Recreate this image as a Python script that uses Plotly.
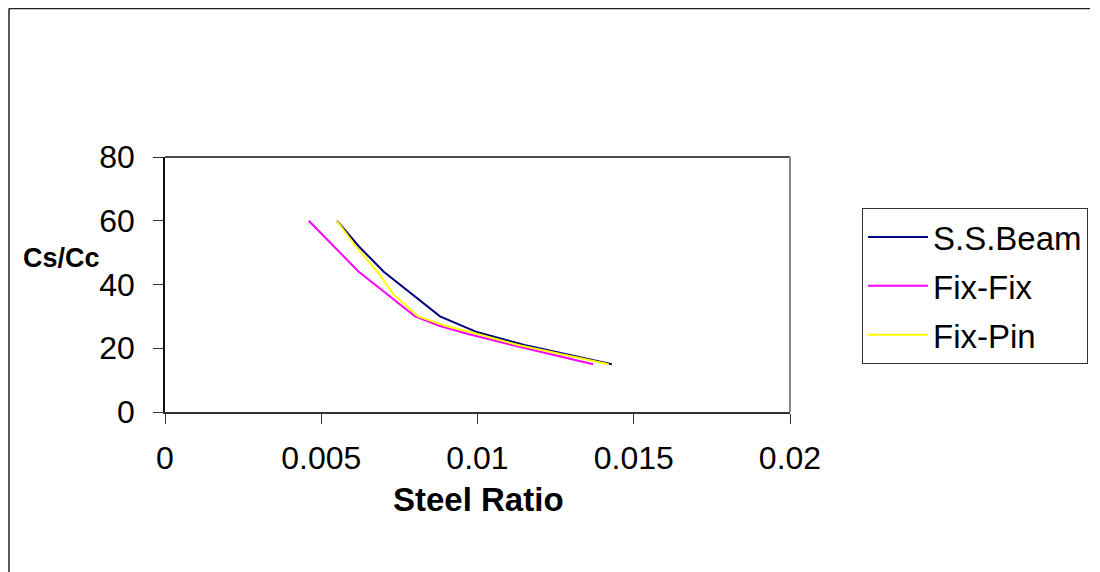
import plotly.graph_objects as go

# Data
ss_x = [0.0055, 0.0062, 0.0070, 0.0079, 0.0088, 0.0100, 0.0115, 0.0143]
ss_y = [60, 52, 44, 37, 30, 25, 21, 15]

ff_x = [0.0046, 0.0062, 0.0071, 0.0080, 0.0088, 0.0097, 0.0111, 0.0137]
ff_y = [60, 44, 37, 30, 27, 24.5, 21, 15]

fp_x = [0.0055, 0.0061, 0.0068, 0.0073, 0.0081, 0.0090, 0.0100, 0.0113, 0.0142]
fp_y = [60, 52, 44, 37, 30, 27, 24.5, 21, 15]

series_names = ["S.S.Beam", "Fix-Fix", "Fix-Pin"]
x_ticks = [0, 0.005, 0.01, 0.015, 0.02]
x_tick_labels = ["0", "0.005", "0.01", "0.015", "0.02"]
y_ticks = [0, 20, 40, 60, 80]

FONT = "Liberation Sans, Arial, sans-serif"

fig = go.Figure()
fig.add_trace(go.Scatter(x=ss_x, y=ss_y, mode="lines", name=series_names[0],
                         line=dict(color="#000080", width=2), legendgroup="a"))
fig.add_trace(go.Scatter(x=ff_x, y=ff_y, mode="lines", name=series_names[1],
                         line=dict(color="#FF00FF", width=2), legendgroup="b"))
fig.add_trace(go.Scatter(x=fp_x, y=fp_y, mode="lines", name=series_names[2],
                         line=dict(color="#FFFF00", width=2), legendgroup="c"))

fig.update_layout(
    width=1100, height=572,
    margin=dict(l=157, r=318, t=149, b=168),
    paper_bgcolor="white", plot_bgcolor="white",
    font=dict(family=FONT, color="black"),
    showlegend=True,
    legend=dict(
        x=1.1152, y=0.8, xanchor="left", yanchor="top",
        bordercolor="#333333", borderwidth=1, bgcolor="white",
        font=dict(size=33, family=FONT, color="black"),
        tracegroupgap=3, itemwidth=60,
    ),
    xaxis=dict(
        range=[0, 0.02], tickvals=x_ticks, ticktext=x_tick_labels,
        showgrid=False, zeroline=False,
        showline=True, linecolor="#333333", linewidth=1.5, mirror=False,
        ticks="outside", ticklen=10, tickcolor="#333333", tickwidth=1,
        ticklabelstandoff=7,
        tickfont=dict(size=32, family=FONT, color="black"),
    ),
    yaxis=dict(
        range=[0, 80], tickvals=y_ticks,
        showgrid=False, zeroline=False,
        showline=True, linecolor="#111111", linewidth=1.5, mirror=False,
        ticks="outside", ticklen=10, tickcolor="#333333", tickwidth=1,
        ticklabelstandoff=12,
        tickfont=dict(size=32, family=FONT, color="black"),
    ),
    shapes=[
        # top border of plot area
        dict(type="line", xref="paper", yref="paper", x0=0, x1=1, y0=1, y1=1,
             line=dict(color="#111111", width=1.5)),
        # right border of plot area
        dict(type="line", xref="paper", yref="paper", x0=1, x1=1, y0=0, y1=1,
             line=dict(color="#888888", width=2)),
        # outer chart frame (top and left edges)
        dict(type="line", xref="paper", yref="paper",
             x0=-0.2496, x1=1.48, y0=1.582, y1=1.582,
             line=dict(color="#222222", width=1.5)),
        dict(type="line", xref="paper", yref="paper",
             x0=-0.2496, x1=-0.2496, y0=-0.9, y1=1.582,
             line=dict(color="#222222", width=1.5)),
    ],
    annotations=[
        dict(text="<b>Cs/Cc</b>", xref="paper", yref="paper", x=-0.165, y=0.604,
             showarrow=False, xanchor="center", yanchor="middle",
             font=dict(size=27, family=FONT, color="black")),
        dict(text="<b>Steel Ratio</b>", xref="paper", yref="paper", x=0.5008, y=-0.345,
             showarrow=False, xanchor="center", yanchor="middle",
             font=dict(size=33, family=FONT, color="black")),
    ],
)

fig.write_html("out.html")
